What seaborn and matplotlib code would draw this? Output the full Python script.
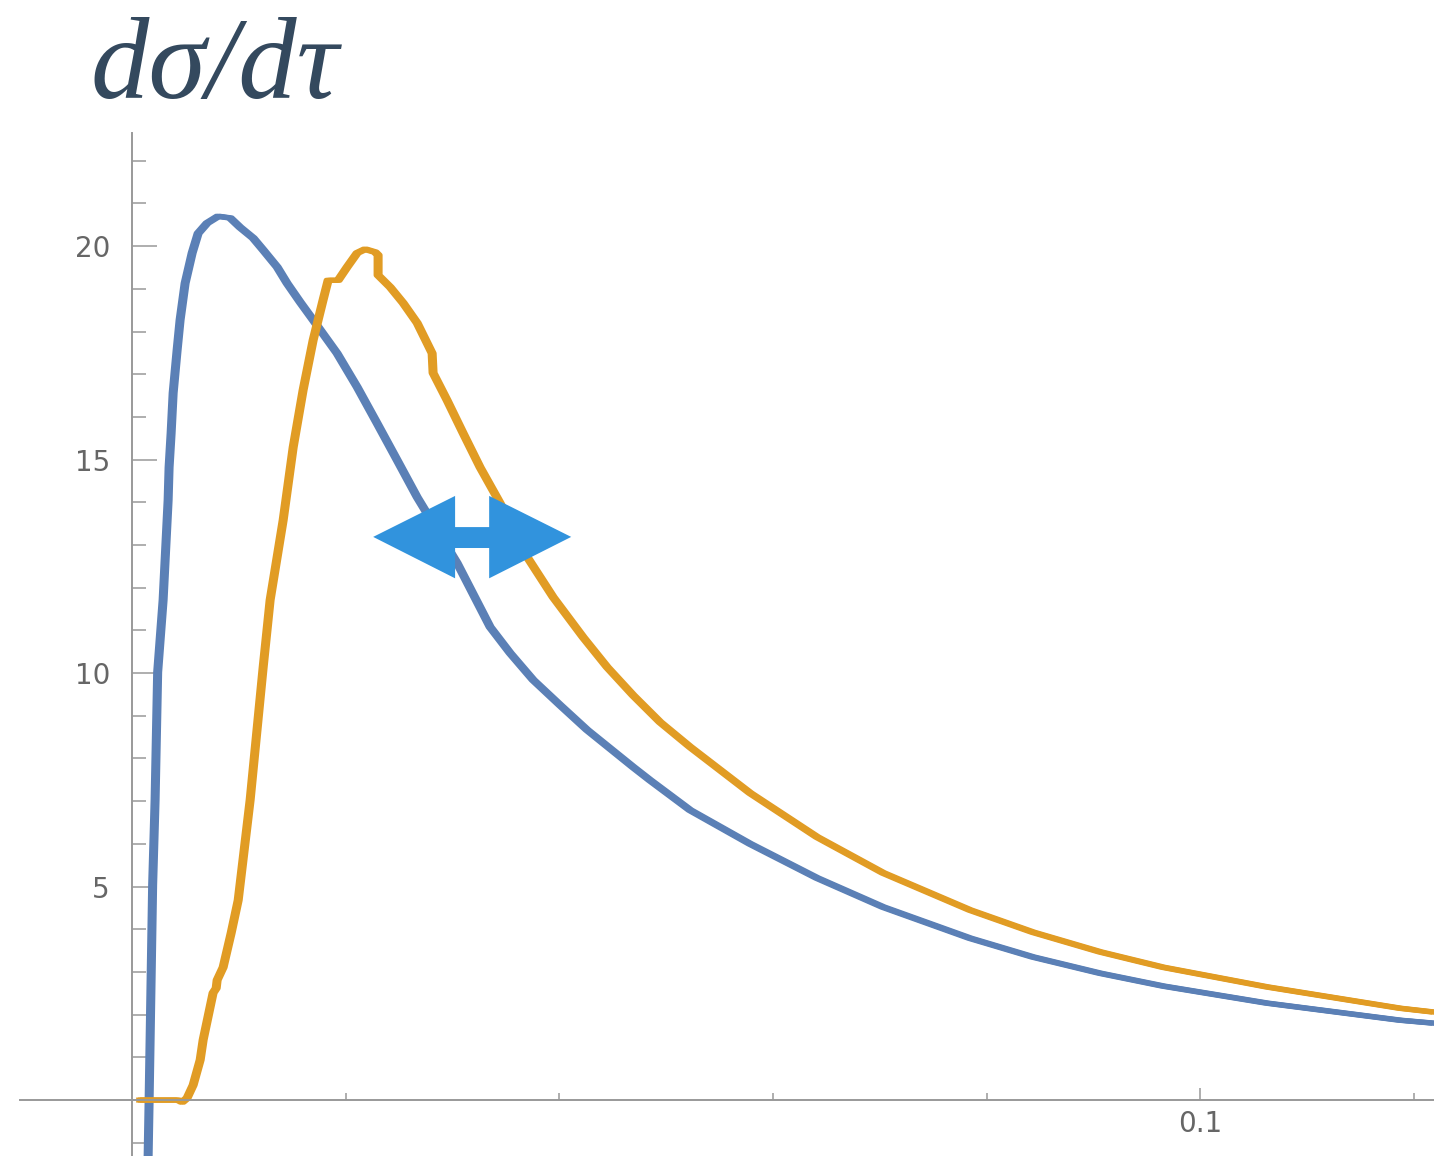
import numpy as np
import pandas as pd
import matplotlib
matplotlib.use("Agg")
import matplotlib.pyplot as plt
import matplotlib.patheffects as pe
from matplotlib.patches import Polygon
import seaborn as sns

# --- curve data: tau vs dsigma/dtau ---
blue_tau = [0.00145, 0.00159, 0.00192, 0.00215, 0.00239, 0.0029, 0.00337, 0.00346,
            0.00365, 0.00384, 0.00421, 0.00449, 0.00496, 0.00562, 0.00618, 0.00702,
            0.00805, 0.00918, 0.01011, 0.01133, 0.01227, 0.01358, 0.01451, 0.01573,
            0.01695, 0.01919, 0.02107, 0.02294, 0.02481, 0.02669, 0.03043, 0.03352,
            0.03539, 0.03755, 0.04007, 0.0426, 0.04691, 0.0485, 0.05225, 0.05787,
            0.06414, 0.07032, 0.07846, 0.08436, 0.09064, 0.09654, 0.10627, 0.11873,
            0.12191]
blue_sigma = [-1.99, 0.0, 5.04, 7.03, 10.02, 11.71, 14.05, 14.82,
              15.62, 16.56, 17.56, 18.27, 19.13, 19.84, 20.30, 20.54,
              20.70, 20.66, 20.44, 20.19, 19.91, 19.51, 19.13, 18.69,
              18.27, 17.49, 16.70, 15.85, 14.99, 14.12, 12.58, 11.08,
              10.47, 9.84, 9.25, 8.67, 7.80, 7.49, 6.79, 6.00,
              5.20, 4.52, 3.79, 3.35, 2.97, 2.67, 2.27, 1.87,
              1.80]

orange_tau = [0.00056, 0.00431, 0.00468, 0.00515, 0.00571, 0.00637, 0.00665, 0.00758,
              0.00787, 0.00796, 0.00852, 0.00927, 0.00993, 0.01105, 0.01227, 0.01292,
              0.01414, 0.01508, 0.01601, 0.01695, 0.01788, 0.01835, 0.01929, 0.02013,
              0.02107, 0.02182, 0.02275, 0.02303, 0.02303, 0.02416, 0.02537, 0.02669,
              0.02809, 0.02818, 0.02949, 0.03099, 0.03258, 0.03446, 0.03699, 0.03942,
              0.04223, 0.04448, 0.04691, 0.04944, 0.05225, 0.05787, 0.06414, 0.07032,
              0.07846, 0.08436, 0.09064, 0.09654, 0.10627, 0.11873, 0.12191]
orange_sigma = [0.0, 0.0, -0.05, 0.05, 0.35, 0.94, 1.41, 2.51,
                2.62, 2.81, 3.11, 3.91, 4.68, 7.03, 10.14, 11.71,
                13.58, 15.29, 16.63, 17.80, 18.74, 19.20, 19.20, 19.51,
                19.84, 19.93, 19.86, 19.79, 19.32, 19.04, 18.67, 18.20,
                17.49, 17.03, 16.39, 15.62, 14.82, 13.98, 12.72, 11.78,
                10.84, 10.14, 9.48, 8.85, 8.27, 7.19, 6.16, 5.32,
                4.45, 3.93, 3.47, 3.11, 2.65, 2.15, 2.06]

curve_names = ["A", "B"]
curve_colors = ["#5b80b6", "#e19c24"]

# double-headed arrow annotation (data units)
arrow_x = [0.02257, 0.03024, 0.03343, 0.04111]   # left tip, head bases, right tip
arrow_y = [13.19, 14.15, 13.42, 12.93, 12.22]     # centre, head top, shaft top, shaft bottom, head bottom
arrow_color = "#3193dd"

df = pd.concat([
    pd.DataFrame({"tau": blue_tau, "dsigma": blue_sigma, "curve": curve_names[0]}),
    pd.DataFrame({"tau": orange_tau, "dsigma": orange_sigma, "curve": curve_names[1]}),
], ignore_index=True)

sns.set_style("white")
W, H = 1434, 1156
fig = plt.figure(figsize=(W / 100, H / 100), dpi=100)
ax = fig.add_axes([20 / W, 0.0, 1414 / W, (H - 133) / H])

sns.lineplot(data=df, x="tau", y="dsigma", hue="curve", palette=curve_colors,
             estimator=None, sort=False, linewidth=3.7, legend=False, ax=ax)
for ln in ax.lines:
    ln.set_solid_joinstyle("round")
    ln.set_solid_capstyle("butt")
    ln.set_path_effects([pe.Stroke(offset=(-1.4, 0)), pe.Stroke(offset=(1.4, 0)), pe.Normal()])

# arrow polygon
tl, hl, hr, tr = arrow_x
yc, yht, yst, ysb, yhb = arrow_y
verts = [(tl, yc), (hl, yht), (hl, yst), (hr, yst), (hr, yht), (tr, yc),
         (hr, yhb), (hr, ysb), (hl, ysb), (hl, yhb)]
ax.add_patch(Polygon(verts, closed=True, facecolor=arrow_color, edgecolor="none", zorder=5))

ax.set_xlim(-0.0105, 0.1219)
ax.set_ylim(-1.31, 22.65)

axis_col = "#999999"
for side in ["top", "right"]:
    ax.spines[side].set_visible(False)
ax.spines["left"].set_position(("data", 0))
ax.spines["bottom"].set_position(("data", 0))
for side in ["left", "bottom"]:
    ax.spines[side].set_color(axis_col)
    ax.spines[side].set_linewidth(1.4)

ax.set_xticks([0.1])
ax.set_xticklabels(["0.1"])
ax.set_xticks([0.02, 0.04, 0.06, 0.08, 0.12], minor=True)
ax.set_yticks([5, 10, 15, 20])
ax.set_yticklabels(["5", "10", "15", "20"])
ax.set_yticks([v for v in range(-1, 23) if v % 5 != 0], minor=True)

ax.tick_params(axis="both", which="both", left=True, bottom=True)
ax.tick_params(axis="x", which="major", direction="in", length=8.6, width=1.1,
               color=axis_col, labelsize=20, labelcolor="#666666", pad=7)
ax.tick_params(axis="x", which="minor", direction="in", length=5, width=1.1, color=axis_col)
ax.tick_params(axis="y", which="major", direction="in", length=18, width=1.1,
               color=axis_col, labelsize=20, labelcolor="#666666", pad=16)
ax.tick_params(axis="y", which="minor", direction="in", length=10, width=1.1, color=axis_col)
for lab in ax.get_xticklabels() + ax.get_yticklabels():
    lab.set_family("DejaVu Sans")

ax.set_xlabel("")
ax.set_ylabel("")
ax.patch.set_alpha(0)

fig.text(90 / W, 1 - 98 / H, "dσ/dτ", family="Liberation Serif", style="italic",
         fontsize=84, color="#34495e", ha="left", va="baseline")

fig.savefig("out.png", dpi=100, facecolor="white")
